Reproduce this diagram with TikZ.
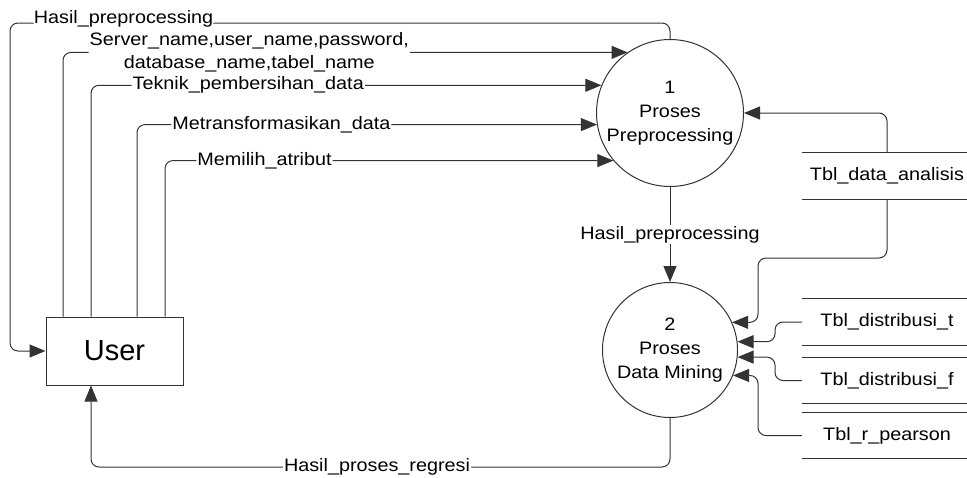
\documentclass[tikz,border=0pt]{standalone}
\usepackage{fontspec}
\newfontfamily\dfdfont[FakeStretch=1.1]{Liberation Sans}
\newfontfamily\userfont{Liberation Sans}
\usetikzlibrary{arrows.meta}

\begin{document}
\begin{tikzpicture}[
    x=1pt, y=-1pt,
    proc/.style={draw=black!80, line width=1pt, circle, minimum size=147pt, inner sep=0pt, align=center, font=\dfdfont\fontsize{18}{24}\selectfont},
    ent/.style={draw=black!80, line width=1pt, minimum width=137pt, minimum height=68pt, font=\userfont\fontsize{29}{34}\selectfont},
    store/.style={minimum width=170pt, minimum height=46pt, inner sep=0pt, font=\dfdfont\fontsize{18}{24}\selectfont},
    lbl/.style={fill=white, inner sep=1pt, align=center, font=\dfdfont\fontsize{18}{23}\selectfont},
    flow/.style={-{Triangle[length=16pt,width=13pt]}, draw=black!80, line width=1pt, rounded corners=8pt}
]
\useasboundingbox (0,0) rectangle (967,477);

% entity and processes
\node[ent]  (user) at (114.5,351) {User};
\node[proc] (p1)   at (670,113) {1\\Proses\\Preprocessing};
\node[proc, minimum size=135pt] (p2) at (670,350) {2\\Proses\\Data Mining};

% data stores
\node[store] (da) at (887,176)   {Tbl\_data\_analisis};
\node[store] (dt) at (887,322)   {Tbl\_distribusi\_t};
\node[store] (df) at (887,380.5) {Tbl\_distribusi\_f};
\node[store] (rp) at (887,435.5) {Tbl\_r\_pearson};
\foreach \s in {da,dt,df,rp}
    \draw[black!80, line width=1pt] (\s.north west) -- (\s.north east) (\s.south west) -- (\s.south east);

% user -> proses 1
\draw[flow] (p1.north) |- node[lbl, anchor=base, pos=0.914] {Hasil\_preprocessing} (10,23) |- (user.west);
\draw[flow] (63,0 |- user.north)  |- node[lbl, pos=0.665] {Server\_name,user\_name,password,\\database\_name,tabel\_name} (p1.125);
\draw[flow] (91,0 |- user.north)  |- node[lbl, pos=0.654] {Teknik\_pembersihan\_data} (p1.158);
\draw[flow] (137,0 |- user.north) |- node[lbl, pos=0.657] {Metransformasikan\_data} (p1.189);
\draw[flow] (165,0 |- user.north) |- node[lbl, pos=0.611] {Memilih\_atribut} (p1.220);

% proses 1 -> proses 2 -> user
\draw[flow] (p1.south) -- node[lbl] {Hasil\_preprocessing} (p2.north);
\draw[flow] (p2.south) |- node[lbl, pos=0.753] {Hasil\_proses\_regresi} (91,467) -- (91,0 |- user.south);

% stores -> processes
\draw[flow] (da.north) |- (p1.east);
\draw[flow] (da.south) |- (758,258) |- (p2.24);
\draw[flow] (dt.west) -- (775,0 |- dt.west) |- (p2.7);
\draw[flow] (df.west) -- (775,0 |- df.west) |- (p2.354);
\draw[flow] (rp.west) -- (758,0 |- rp.west) |- (p2.338);
\end{tikzpicture}
\end{document}
